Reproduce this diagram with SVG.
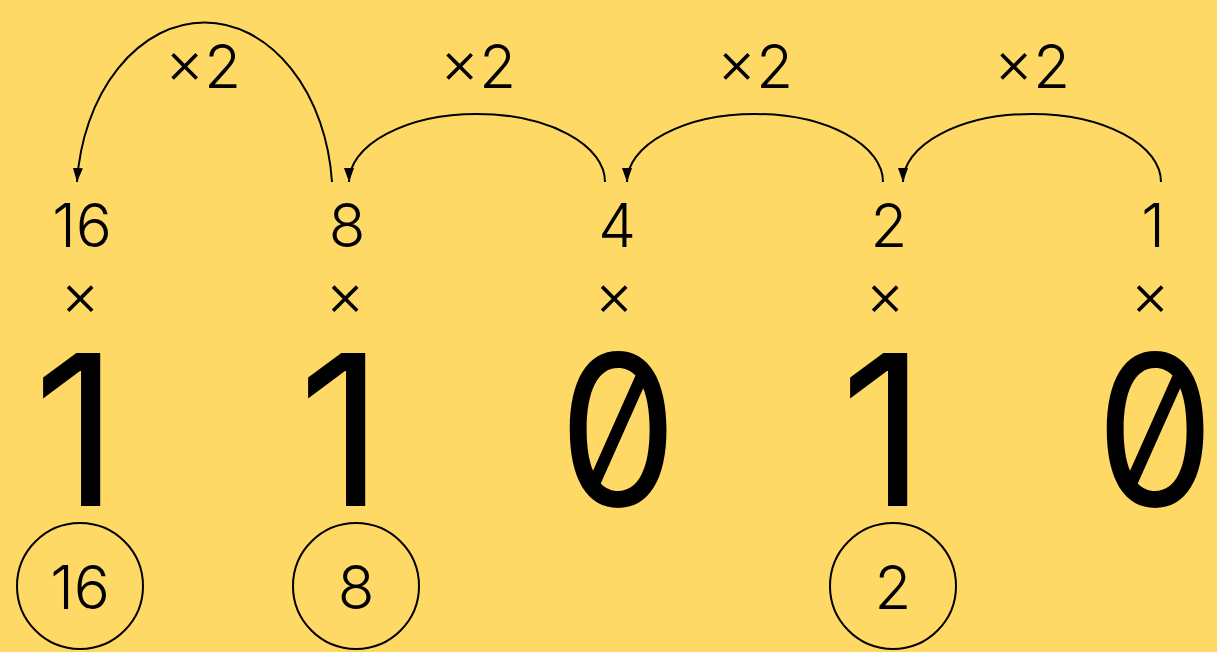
<svg xmlns="http://www.w3.org/2000/svg" width="1217" height="652" viewBox="0 0 1217 652">
  <defs>
    <marker id="ah" viewBox="0 0 14 10" refX="14" refY="5" markerWidth="14" markerHeight="10" markerUnits="userSpaceOnUse" orient="auto">
      <path d="M0,0 L14,5 L0,10 Z" fill="#000"/>
    </marker>
    <style>
      .lbl { font-family: Inter, Lato, "Liberation Sans", sans-serif; font-weight: 300; font-size: 60px; fill: #000; text-anchor: middle; }
      .big { font-family: Inter, "DejaVu Sans Mono", monospace; font-size: 210px; fill: #000; text-anchor: middle; font-feature-settings: "zero" 1; }
      .arc { fill: none; stroke: #000; stroke-width: 2; marker-end: url(#ah); }
      .ring { fill: none; stroke: #000; stroke-width: 2; }
    </style>
  </defs>
  <rect width="1217" height="652" fill="#FFD966"/>

  <g id="connectors">
    <path class="arc" d="M332,182 A128,175 0 0 0 77,182"/>
    <path class="arc" d="M605,182 A128,68 0 0 0 349,182"/>
    <path class="arc" d="M883,182 A128,68 0 0 0 627,182"/>
    <path class="arc" d="M1161,182 A129,68 0 0 0 903,182"/>
  </g>

  <g id="labels-x2">
    <text class="lbl" x="203" y="88">×2</text>
    <text class="lbl" x="478" y="88">×2</text>
    <text class="lbl" x="755" y="88">×2</text>
    <text class="lbl" x="1032" y="88">×2</text>
  </g>

  <g id="col16">
    <text class="lbl" x="82" y="247">16</text>
    <text class="lbl" x="80" y="316">×</text>
    <text class="big" x="76" y="506">1</text>
    <circle class="ring" cx="80" cy="586" r="63"/>
    <text class="lbl" x="80" y="609">16</text>
  </g>
  <g id="col8">
    <text class="lbl" x="347" y="247">8</text>
    <text class="lbl" x="345" y="316">×</text>
    <text class="big" x="341" y="506">1</text>
    <circle class="ring" cx="356" cy="586" r="63"/>
    <text class="lbl" x="356" y="609">8</text>
  </g>
  <g id="col4">
    <text class="lbl" x="617" y="247">4</text>
    <text class="lbl" x="614" y="316">×</text>
    <text class="big" transform="translate(618,506) scale(0.9,1)" x="0" y="0">0</text>
  </g>
  <g id="col2">
    <text class="lbl" x="889" y="247">2</text>
    <text class="lbl" x="885" y="316">×</text>
    <text class="big" x="883" y="506">1</text>
    <circle class="ring" cx="893" cy="586" r="63"/>
    <text class="lbl" x="893" y="609">2</text>
  </g>
  <g id="col1">
    <text class="lbl" x="1153" y="247">1</text>
    <text class="lbl" x="1150" y="316">×</text>
    <text class="big" transform="translate(1155,506) scale(0.9,1)" x="0" y="0">0</text>
  </g>
</svg>
